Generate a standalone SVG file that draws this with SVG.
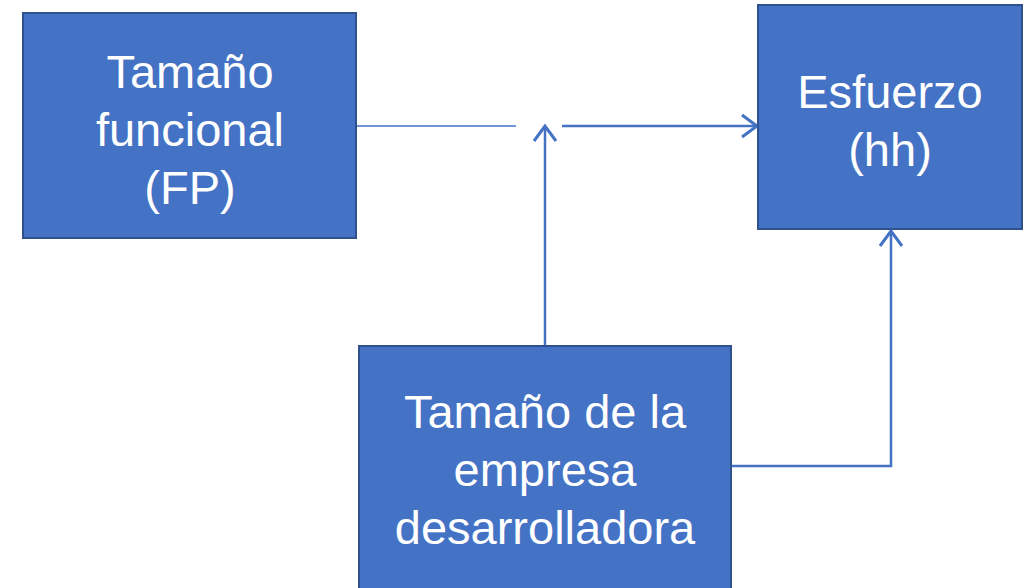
<svg xmlns="http://www.w3.org/2000/svg" width="1028" height="588" viewBox="0 0 1028 588">
<style>
.box{fill:#4472C4;stroke:#2F528F;stroke-width:2}
.t{font-family:"Liberation Sans",Arial,sans-serif;font-size:47px;fill:#fff;text-anchor:middle}
.c{fill:none;stroke:#4472C4;stroke-width:2.5}
</style>
<defs>
<marker id="arr" markerWidth="24" markerHeight="26" refX="17" refY="13" orient="auto" markerUnits="userSpaceOnUse" viewBox="0 0 24 26">
<path d="M2,2 L17,13 L2,24" fill="none" stroke="#4472C4" stroke-width="3"/>
</marker>
</defs>
<rect width="1028" height="588" fill="#fff"/>
<g id="connectors">
<line x1="356" y1="126" x2="516" y2="126" stroke="#4472C4" stroke-width="1.3"/>
<line class="c" x1="562" y1="126" x2="757" y2="126" marker-end="url(#arr)"/>
<line class="c" x1="545" y1="346" x2="545" y2="126" marker-end="url(#arr)"/>
<polyline class="c" points="731,466 891,466 891,231" marker-end="url(#arr)"/>
</g>
<g id="node-tamano-funcional">
<rect class="box" x="23" y="13" width="333" height="225"/>
<text class="t" x="190" y="88">Tamaño</text>
<text class="t" x="190" y="146">funcional</text>
<text class="t" x="190" y="204">(FP)</text>
</g>
<g id="node-esfuerzo">
<rect class="box" x="758" y="5" width="264" height="224"/>
<text class="t" x="890" y="108">Esfuerzo</text>
<text class="t" x="890" y="166">(hh)</text>
</g>
<g id="node-tamano-empresa">
<rect class="box" x="359" y="346" width="372" height="250"/>
<text class="t" x="545" y="428">Tamaño de la</text>
<text class="t" x="545" y="486">empresa</text>
<text class="t" x="545" y="544">desarrolladora</text>
</g>
</svg>
